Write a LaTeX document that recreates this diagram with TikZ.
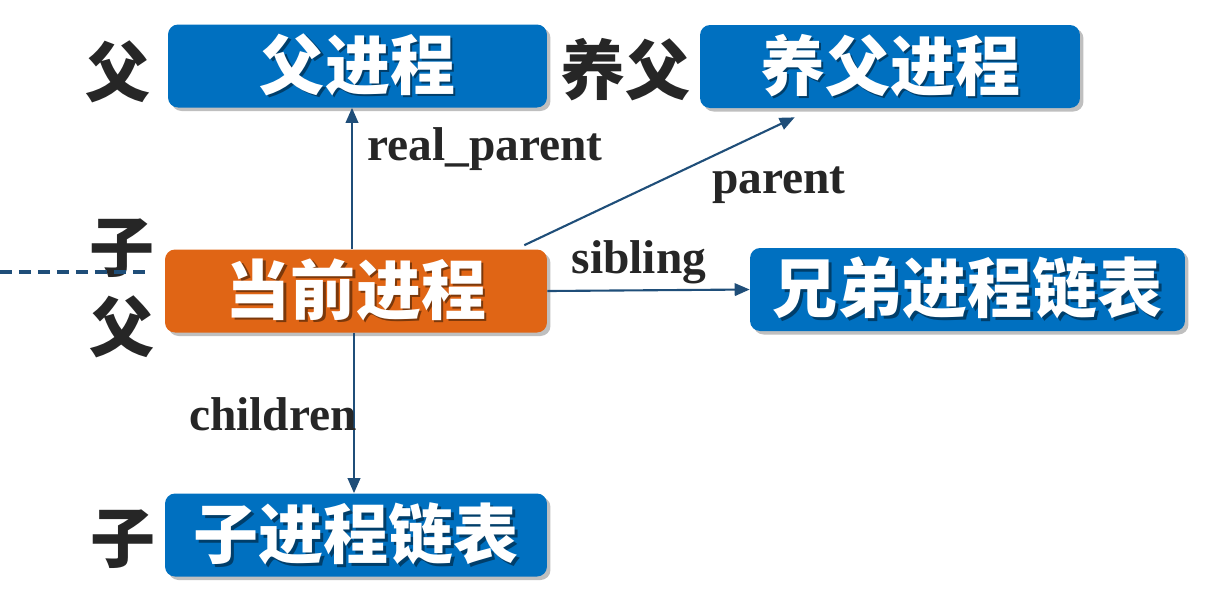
\documentclass[tikz,border=0pt]{standalone}
\usepackage{fontspec}
\setmainfont{Liberation Serif}
\newfontfamily\cjk{Noto Sans CJK SC}
\usetikzlibrary{arrows.meta,shadows,calc}
\definecolor{boxblue}{HTML}{0070C0}
\definecolor{boxorange}{HTML}{E06515}
\definecolor{arrowblue}{HTML}{1F4E79}
\definecolor{txtdark}{HTML}{262626}
\colorlet{shblue}{boxblue!55!black}
\colorlet{shorange}{boxorange!55!black}
\newcommand\shtext[2]{\makebox[0pt][l]{\hspace{1.5pt}\raisebox{-1.5pt}{\textcolor{#1}{#2}}}#2}
\begin{document}
\begin{tikzpicture}[x=0.02cm,y=-0.02cm,
  procbox/.style={rounded corners=0.2cm, minimum height=1.66cm, inner sep=0pt,
    text=white, font=\cjk\bfseries\fontsize{37}{37}\selectfont,
    drop shadow={shadow xshift=0.07cm, shadow yshift=-0.07cm, fill=black, opacity=0.25}},
  sidelab/.style={text=txtdark, font=\cjk\bfseries\fontsize{37}{37}\selectfont, inner sep=0pt},
  elab/.style={text=txtdark, font=\bfseries\fontsize{27}{27}\selectfont, inner sep=0pt, anchor=base},
  arr/.style={draw=arrowblue, line width=1.2pt, -{Triangle[length=0.3cm,width=0.25cm]}},
  dashline/.style={draw=arrowblue, line width=2pt, dash pattern=on 0.24cm off 0.14cm}
]
\useasboundingbox (0,0) rectangle (1212,600);

% boxes
\node[procbox, fill=boxblue, minimum width=7.58cm] (fa) at (357.5,66) {\shtext{shblue}{父进程}};
\node[procbox, fill=boxblue, minimum width=7.6cm] (adopt) at (890,66.5) {\shtext{shblue}{养父进程}};
\node[procbox, fill=boxorange, minimum width=7.64cm] (cur) at (356,291) {\shtext{shorange}{当前进程}};
\node[procbox, fill=boxblue, minimum width=8.7cm] (sib) at (967.5,289.5) {\shtext{shblue}{兄弟进程链表}};
\node[procbox, fill=boxblue, minimum width=7.64cm] (child) at (356,535) {\shtext{shblue}{子进程链表}};

% side labels
\node[sidelab] (lfa) at (118,72) {父};
\node[sidelab] (ladopt) at (625,70) {养父};
\node[sidelab] (lzi) at (122,248) {子};
\node[sidelab] (lfu) at (122,327) {父};
\node[sidelab] (lchild) at (123,539) {子};

% dashed separator
\coordinate (d0) at (0,272);
\coordinate (d1) at (150,272);
\draw[dashline] (d0) -- (d1);

% connectors
\draw[arr] ($(cur.north)+(-4,0)$) -- ($(fa.south)+(-5.5,0)$);
\draw[arr] ($(cur.south)+(-2,0)$) -- ($(child.north)+(-2,0)$);
\draw[arr] ($(cur.north east)+(-23,-4)$) -- ($(adopt.south west)+(95,9)$);
\draw[arr] (cur.east) -- (sib.west);

% connector labels
\node[elab] (lrp) at (485,160) {real\_parent};
\node[elab] (lp) at (779,193) {parent};
\node[elab] (ls) at (639,273) {sibling};
\node[elab] (lc) at (273,430) {children};
\end{tikzpicture}
\end{document}
